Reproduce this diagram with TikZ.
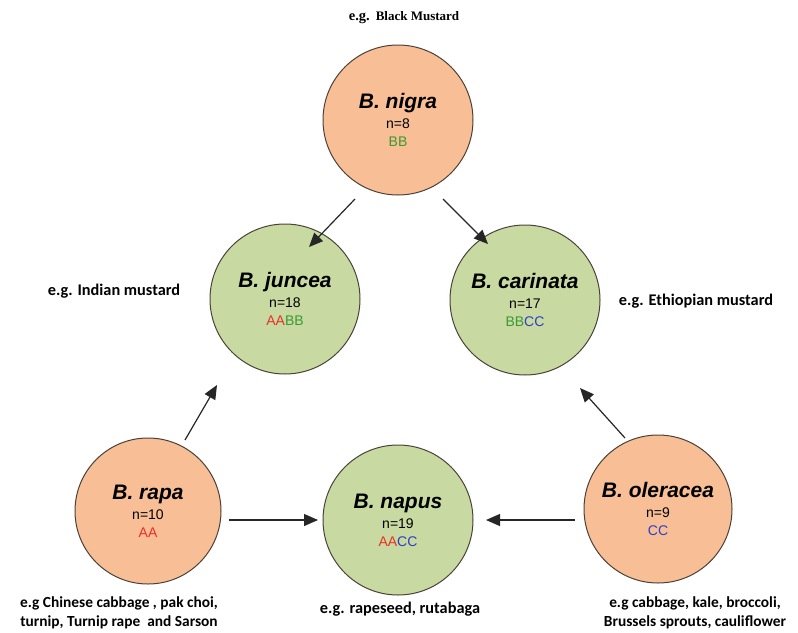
\documentclass[tikz,border=0pt]{standalone}
\usepackage{fontspec}
\setmainfont{Liberation Sans}
\newfontfamily\calib{Carlito}
\newfontfamily\tnr{Liberation Serif}
\usetikzlibrary{arrows.meta}
\definecolor{orangefill}{HTML}{F8BE96}
\definecolor{greenfill}{HTML}{C8DAA2}
\definecolor{rimcol}{HTML}{4A4238}
\definecolor{aacol}{HTML}{E8302A}
\definecolor{bbcol}{HTML}{3A9A32}
\definecolor{cccol}{HTML}{2C3FC8}
\tikzset{
  species/.style={circle, draw=rimcol, line width=1pt, minimum size=150pt, inner sep=0pt, align=center, font=\fontsize{14}{17}\selectfont},
  diploid/.style={species, fill=orangefill},
  amphi/.style={species, fill=greenfill},
  conn/.style={-{Triangle[length=14pt,width=12pt]}, line width=1.2pt, color=black!85},
  note/.style={font=\calib\bfseries\fontsize{16.3}{19}\selectfont, align=center},
  lownote/.style={font=\calib\bfseries\fontsize{15.4}{19}\selectfont, align=center}
}
\newcommand{\spname}[1]{{\fontsize{21}{24}\selectfont\bfseries\itshape #1}\\[3pt]}
\begin{document}
\begin{tikzpicture}[x=1pt,y=-1pt]
\useasboundingbox (0,0) rectangle (798,632);
\node[diploid] (nigra) at (398,120) {\spname{B. nigra}n=8\\[1pt]\textcolor{bbcol}{BB}};
\node[amphi] (juncea) at (285,299) {\spname{B. juncea}n=18\\[1pt]\textcolor{aacol}{AA}\textcolor{bbcol}{BB}};
\node[amphi] (carinata) at (525,300) {\spname{B. carinata}n=17\\[1pt]\textcolor{bbcol}{BB}\textcolor{cccol}{CC}};
\node[diploid, minimum size=146pt] (rapa) at (148,511) {\spname{B. rapa}n=10\\[1pt]\textcolor{aacol}{AA}};
\node[amphi] (napus) at (398,520) {\spname{B. napus}n=19\\[1pt]\textcolor{aacol}{AA}\textcolor{cccol}{CC}};
\node[diploid, minimum size=148pt] (oleracea) at (658,509) {\spname{B. oleracea}n=9\\[1pt]\textcolor{cccol}{CC}};

\coordinate (a1) at (355,199); \coordinate (a2) at (309,247);
\coordinate (b1) at (443,199); \coordinate (b2) at (488,244);
\coordinate (c1) at (185,440); \coordinate (c2) at (217,385);
\coordinate (d1) at (229,520); \coordinate (d2) at (318,520);
\coordinate (e1) at (575,520); \coordinate (e2) at (486,520);
\coordinate (f1) at (625,438); \coordinate (f2) at (580,388);
\draw[conn] (a1) -- (a2);
\draw[conn] (b1) -- (b2);
\draw[conn] (c1) -- (c2);
\draw[conn] (d1) -- (d2);
\draw[conn] (e1) -- (e2);
\draw[conn] (f1) -- (f2);

\node[font=\tnr\bfseries] (tBlack) at (404,18) {{\fontsize{14.5}{16}\selectfont e.g.}\hspace{6pt}{\fontsize{13}{15}\selectfont Black Mustard}};
\node[note] (tIndian) at (114,291) {e.g. Indian mustard};
\node[note] (tEth) at (696,301) {e.g. Ethiopian mustard};
\node[lownote] (tRapa) at (119,613) {e.g Chinese cabbage , pak choi,\\turnip, Turnip rape\ \ and Sarson};
\node[note] (tNapus) at (400,609) {e.g. rapeseed, rutabaga};
\node[lownote] (tOle) at (695,613) {e.g cabbage, kale, broccoli,\\Brussels sprouts, cauliflower};
\end{tikzpicture}
\end{document}
